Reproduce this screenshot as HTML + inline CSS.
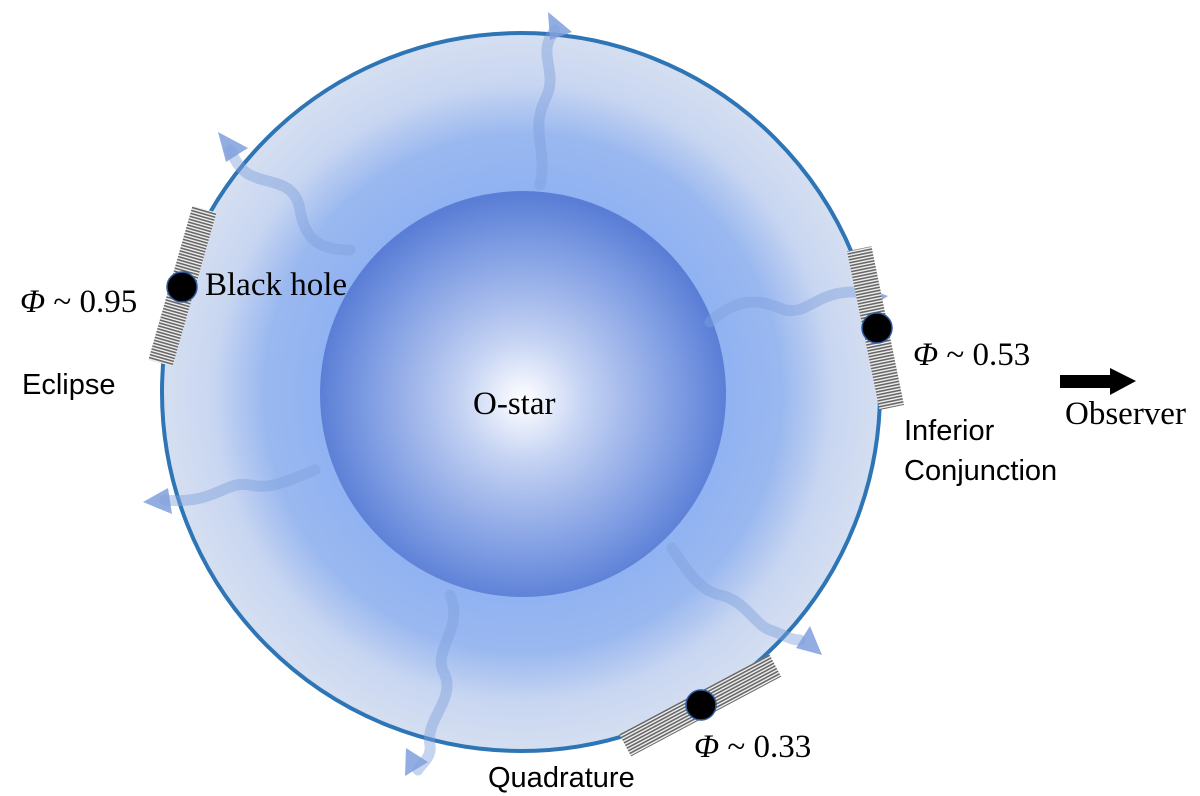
<!DOCTYPE html>
<html><head><meta charset="utf-8"><style>
html,body{margin:0;padding:0;background:#fff}
svg{display:block}
.serif{font-family:"Liberation Serif",serif}
.sans{font-family:"Liberation Sans",sans-serif}
</style></head><body>
<svg width="1200" height="796" viewBox="0 0 1200 796" xmlns="http://www.w3.org/2000/svg">
<defs>
<radialGradient id="ring" cx="523" cy="393" r="360" gradientUnits="userSpaceOnUse">
<stop offset="0.55" stop-color="#90b2f2"/>
<stop offset="0.72" stop-color="#9ab8f0"/>
<stop offset="0.86" stop-color="#c8d6f1"/>
<stop offset="1" stop-color="#d6dff1"/>
</radialGradient>
<radialGradient id="star" cx="523" cy="400" r="205" gradientUnits="userSpaceOnUse">
<stop offset="0" stop-color="#ffffff"/>
<stop offset="0.3" stop-color="#c4d2f3"/>
<stop offset="0.75" stop-color="#7f9de3"/>
<stop offset="1" stop-color="#5a7ed6"/>
</radialGradient>
<pattern id="hatch" width="6" height="3" patternUnits="userSpaceOnUse">
<rect width="6" height="3" fill="#f2f2f2"/>
<rect width="6" height="1.6" fill="#666"/>
</pattern>
</defs>
<circle cx="521" cy="392" r="359" fill="url(#ring)" stroke="#2e75b6" stroke-width="4"/>
<circle cx="523" cy="394" r="203" fill="url(#star)"/>

<g fill="none" stroke="#7f9fdc" stroke-opacity="0.45" stroke-width="11" stroke-linecap="round">
<path d="M540 185 C548 150 530 130 545 100 C560 70 535 55 555 30"/>
<path d="M350 250 C320 250 305 240 300 210 C295 180 270 185 250 175 C240 170 235 160 230 150"/>
<path d="M710 322 C740 295 760 300 785 310 C810 315 815 290 860 292"/>
<path d="M315 470 C290 480 270 490 250 485 C225 480 215 505 165 500"/>
<path d="M450 595 C465 630 430 650 445 675 C455 700 425 720 430 745 C432 758 420 765 418 770"/>
<path d="M672 548 C690 575 700 590 720 595 C745 600 755 625 770 630 C785 635 790 640 800 640"/>
</g>
<g fill="#7f9fdc" fill-opacity="0.85">
<polygon points="548,12 572,32 550,40"/>
<polygon points="218,132 248,148 226,162"/>
<polygon points="858,285 888,296 866,310"/>
<polygon points="143,502 168,488 172,514"/>
<polygon points="405,776 428,762 406,748"/>
<polygon points="822,655 796,648 810,626"/>
</g>

<rect x="170" y="206" width="25" height="160" fill="url(#hatch)" transform="rotate(16 182 286)"/>
<rect x="863" y="247" width="25" height="162" fill="url(#hatch)" transform="rotate(-11.6 876 328)"/>
<rect x="615" y="693" width="170" height="25" fill="url(#hatch)" transform="rotate(-28 700 705)"/>

<circle cx="182" cy="287" r="15" fill="#000" stroke="#2e5aa0" stroke-width="1.5"/>
<circle cx="877" cy="328" r="15" fill="#000" stroke="#2e5aa0" stroke-width="1.5"/>
<circle cx="701" cy="705" r="15" fill="#000" stroke="#2e5aa0" stroke-width="1.5"/>

<rect x="1060" y="375" width="52" height="13" fill="#000"/>
<polygon points="1110,368 1136,381 1110,395" fill="#000"/>

<g class="serif" font-size="33" fill="#000">
<text x="20" y="312"><tspan font-style="italic">Φ</tspan> ~ 0.95</text>
<text x="205" y="295">Black hole</text>
<text x="473" y="414">O-star</text>
<text x="913" y="365"><tspan font-style="italic">Φ</tspan> ~ 0.53</text>
<text x="1065" y="424">Observer</text>
<text x="694" y="757"><tspan font-style="italic">Φ</tspan> ~ 0.33</text>
</g>
<g class="sans" font-size="29" fill="#000">
<text x="22" y="394">Eclipse</text>
<text x="904" y="440">Inferior</text>
<text x="904" y="480">Conjunction</text>
<text x="488" y="787">Quadrature</text>
</g>
</svg>
</body></html>
